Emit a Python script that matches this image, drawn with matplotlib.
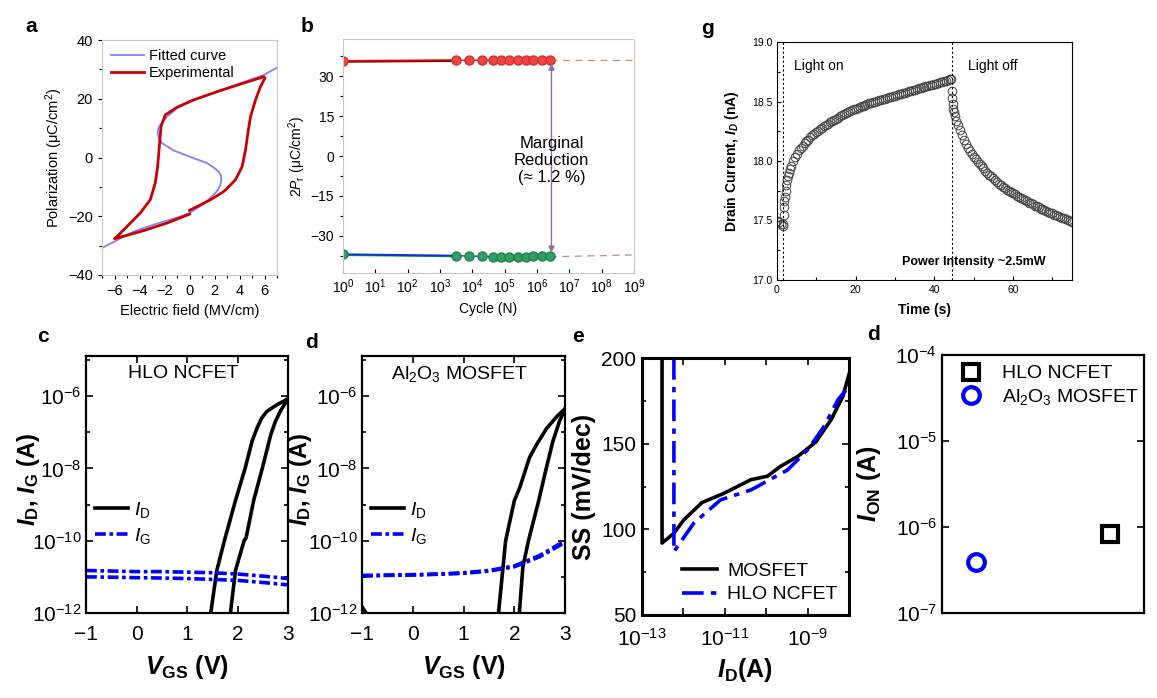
import matplotlib
matplotlib.use("Agg")
import matplotlib.pyplot as plt
from matplotlib.ticker import MultipleLocator, NullFormatter, FormatStrFormatter, NullLocator

plt.rcParams['font.family'] = ['Liberation Sans', 'DejaVu Sans']
plt.rcParams['mathtext.fontset'] = 'custom'
plt.rcParams['mathtext.rm'] = 'Liberation Sans'
plt.rcParams['mathtext.it'] = 'Liberation Sans:italic'
plt.rcParams['mathtext.bf'] = 'Liberation Sans:bold'
plt.rcParams['mathtext.bfit'] = 'Liberation Sans:bold:italic'

# ---- panel a: P-E loop ----
fit_E = [-7.0, -6.0, -4.48, -2.61, -0.74, 0.0, 1.14, 2.07, 2.3, 2.47, 2.55, 2.52, 2.34, 2.2, 1.94,
         1.40, 0.0, -1.27, -2.2, -2.45, -2.55, -2.5, -2.34, -1.80, -1.0, 0.33, 2.2, 4.08, 5.95, 7.0]
fit_P = [-30.8, -28.6, -25.2, -22.5, -20.1, -18.9, -15.8, -12.1, -10.8, -9.3, -7.6, -6.2, -4.8, -4.4, -3.4,
         -1.9, 0.3, 2.4, 4.9, 6.5, 8.3, 9.8, 11.1, 13.9, 16.8, 19.6, 22.4, 25.3, 28.1, 30.6]
exp_E = [0.0, -1.8, -3.68, -5.01, -6.0, -5.8, -5.0, -3.94, -3.14, -2.74, -2.55, -2.39, -2.28, -1.94,
         -1.0, 0.33, 2.2, 4.08, 5.95, 6.03, 5.68, 5.28, 4.88, 4.67, 4.48, 4.21, 3.68, 2.74, 1.67, 0.6, 0.0]
exp_P = [-19.3, -22.3, -24.9, -26.5, -27.6, -26.9, -23.5, -18.9, -14.4, -8.7, -3.1, 4.9, 10.5, 14.5,
         17.1, 19.6, 22.4, 25.0, 27.5, 27.0, 24.1, 19.6, 13.9, 8.3, 2.6, -3.1, -7.6, -11.6, -14.4, -16.7, -18.0]

# ---- panel b: endurance ----
b_start_N = [1, 3.1e3]
b_start_pos = [35.7, 36.0]
b_start_neg = [-37.0, -37.5]
b_cycles = [3.1e3, 7.9e3, 1.95e4, 4.3e4, 7.6e4, 1.4e5, 2.5e5, 4.5e5, 7.6e5, 1.4e6, 2.5e6]
b_pos = [36.0, 36.0, 36.0, 36.1, 36.1, 36.2, 36.1, 36.0, 36.0, 36.0, 36.0]
b_neg = [-37.5, -37.6, -37.7, -37.9, -37.8, -37.8, -37.8, -37.8, -37.7, -37.7, -37.7]
b_extra_N = [2.5e6, 1e9]
b_extra_pos = [36.1, 36.1]
b_extra_neg = [-37.9, -37.2]

# ---- panel g: photo response ----
g_time = [0.0, 0.5, 1.0, 1.4, 1.6, 1.7, 1.8, 1.9, 2.0, 2.2, 2.4, 2.6, 2.8, 3.0, 3.3, 3.6, 4.0, 4.5,
          5.0, 5.5, 6.0, 6.5, 7.0, 7.5, 8.0, 8.5, 9.0, 9.5, 10.0, 10.5, 11.0, 11.5, 12.0, 12.5, 13.0,
          13.5, 14.0, 14.5, 15.0, 15.5, 16.0, 16.5, 17.0, 17.5, 18.0, 18.5, 19.0, 19.5, 20.0, 20.5,
          21.0, 21.5, 22.0, 22.5, 23.0, 23.5, 24.0, 24.5, 25.0, 25.5, 26.0, 26.5, 27.0, 27.5, 28.0,
          28.5, 29.0, 29.5, 30.0, 30.5, 31.0, 31.5, 32.0, 32.5, 33.0, 33.5, 34.0, 34.5, 35.0, 35.5,
          36.0, 36.5, 37.0, 37.5, 38.0, 38.5, 39.0, 39.5, 40.0, 40.5, 41.0, 41.5, 42.0, 42.5, 43.0,
          43.5, 44.0, 44.3,
          44.45, 44.55, 44.65, 44.8, 45.0, 45.3, 45.6, 46.0, 46.5, 47.0, 47.5, 48.0, 48.5, 49.0, 49.5,
          50.0, 50.5, 51.0, 51.5, 52.0, 52.5, 53.0, 53.5, 54.0, 54.5, 55.0, 55.5, 56.0, 56.5, 57.0,
          57.5, 58.0, 58.5, 59.0, 59.5, 60.0, 60.5, 61.0, 61.5, 62.0, 62.5, 63.0, 63.5, 64.0, 64.5,
          65.0, 65.5, 66.0, 66.5, 67.0, 67.5, 68.0, 68.5, 69.0, 69.5, 70.0, 70.5, 71.0, 71.5, 72.0,
          72.5, 73.0, 73.5, 74.0, 74.5, 75.0]
g_current = [17.50, 17.49, 17.47, 17.45, 17.47, 17.55, 17.61, 17.66, 17.70, 17.75, 17.80, 17.84, 17.87,
             17.90, 17.93, 17.96, 18.00, 18.03, 18.06, 18.09, 18.11, 18.13, 18.15, 18.165, 18.18, 18.20,
             18.215, 18.23, 18.24, 18.255, 18.265, 18.28, 18.29, 18.30, 18.315, 18.325, 18.335, 18.345,
             18.355, 18.365, 18.375, 18.385, 18.395, 18.40, 18.41, 18.42, 18.425, 18.435, 18.44, 18.445,
             18.45, 18.46, 18.465, 18.47, 18.475, 18.485, 18.49, 18.495, 18.50, 18.505, 18.51, 18.515,
             18.52, 18.525, 18.53, 18.535, 18.54, 18.545, 18.55, 18.555, 18.56, 18.565, 18.57, 18.575,
             18.58, 18.585, 18.59, 18.595, 18.60, 18.605, 18.61, 18.615, 18.62, 18.623, 18.627, 18.63,
             18.635, 18.64, 18.645, 18.65, 18.655, 18.66, 18.665, 18.67, 18.675, 18.68, 18.685, 18.69,
             18.59, 18.53, 18.48, 18.44, 18.41, 18.38, 18.34, 18.30, 18.26, 18.22, 18.18, 18.14, 18.11,
             18.08, 18.055, 18.035, 18.015, 17.995, 17.975, 17.955, 17.94, 17.92, 17.90, 17.885, 17.87,
             17.855, 17.84, 17.825, 17.81, 17.80, 17.785, 17.775, 17.76, 17.75, 17.74, 17.73, 17.72,
             17.71, 17.70, 17.69, 17.68, 17.67, 17.66, 17.65, 17.645, 17.635, 17.625, 17.62, 17.61,
             17.60, 17.595, 17.585, 17.58, 17.57, 17.565, 17.56, 17.55, 17.545, 17.54, 17.53, 17.525,
             17.52, 17.51, 17.505, 17.50, 17.49]
g_light_on = 1.5
g_light_off = 44.4

# ---- panel c: HLO NCFET transfer ----
c_vg_up = [1.42, 1.47, 1.59, 1.74, 1.96, 2.15, 2.29, 2.39, 2.48, 2.58, 2.78, 3.0]
c_id_up = [5e-13, 1e-12, 1.5e-11, 1e-10, 1.3e-9, 1e-8, 5.8e-8, 1.35e-7, 2.5e-7, 3.8e-7, 5.8e-7, 8.5e-7]
c_vg_dn = [1.83, 1.86, 1.96, 2.13, 2.17, 2.32, 2.49, 2.66, 2.75, 2.85, 3.0]
c_id_dn = [5e-13, 1e-12, 1.5e-11, 1e-10, 1.2e-10, 1.3e-9, 1e-8, 8.7e-8, 2e-7, 3.9e-7, 8.5e-7]
c_vg_ig = [-1, -0.5, 0, 0.5, 1, 1.5, 2, 2.5, 3]
c_ig_a = [1.5e-11, 1.45e-11, 1.4e-11, 1.4e-11, 1.35e-11, 1.3e-11, 1.2e-11, 1.05e-11, 0.9e-11]
c_ig_b = [1.0e-11, 0.98e-11, 0.95e-11, 0.93e-11, 0.9e-11, 0.85e-11, 0.8e-11, 0.7e-11, 0.6e-11]

# ---- panel d: Al2O3 MOSFET transfer ----
d_vg_up = [1.66, 1.69, 1.83, 2.0, 2.11, 2.30, 2.44, 2.64, 2.84, 3.0]
d_id_up = [5e-13, 1e-12, 1e-10, 1.26e-9, 3e-9, 2e-8, 4.6e-8, 1.3e-7, 2.75e-7, 4.5e-7]
d_vg_dn = [2.08, 2.10, 2.17, 2.28, 2.48, 2.63, 2.76, 2.89, 3.0]
d_id_dn = [5e-13, 1e-12, 1.9e-11, 1e-10, 1.26e-9, 1e-8, 5.6e-8, 2e-7, 4.5e-7]
d_vg_tail = [-1.0, -0.88]
d_id_tail = [1.5e-12, 8e-13]
d_vg_ig = [-1, -0.5, 0, 0.5, 1, 1.5, 2, 2.5, 3]
d_ig_a = [1.1e-11, 1.12e-11, 1.15e-11, 1.2e-11, 1.3e-11, 1.5e-11, 2.0e-11, 3.9e-11, 1.0e-10]
d_ig_b = [1.05e-11, 1.1e-11, 1.12e-11, 1.18e-11, 1.25e-11, 1.45e-11, 1.9e-11, 3.6e-11, 0.9e-10]

# ---- panel e: SS vs ID ----
e_id_mos = [3.05e-13, 3.05e-13, 5.9e-13, 1.02e-12, 2.8e-12, 9.5e-12, 4.3e-11, 1.07e-10, 2.2e-10,
            5.75e-10, 1.58e-9, 3.7e-9, 7.1e-9, 1.07e-8]
e_ss_mos = [200, 92, 97.7, 105.5, 115.6, 121, 129, 131, 136.7, 142.5, 151, 164, 177.6, 193]
e_id_nc = [5.9e-13, 5.9e-13, 1.78e-12, 7.9e-12, 4.3e-11, 3.3e-10, 1e-9, 2.5e-9, 5.4e-9, 9.3e-9]
e_ss_nc = [200, 87, 103.6, 117.2, 123, 134.7, 146.4, 160, 175.6, 182.5]

# ---- panel d (right): ION ----
ion_pos = [2.5, 0.5]
ion_vals = [8.2e-7, 3.9e-7]
ion_names = ['HLO NCFET', 'Al$_2$O$_3$ MOSFET']

W, H = 1157, 698
fig = plt.figure(figsize=(W / 100, H / 100), dpi=100)


def box(x0, y0, x1, y1):
    return fig.add_axes([x0 / W, 1 - y1 / H, (x1 - x0) / W, (y1 - y0) / H])


def tag(x, y, s):
    fig.text(x / W, 1 - y / H, s, fontsize=15, fontweight='bold', ha='center', va='center')


# panel a
ax = box(102, 40, 277, 275)
ax.plot(fit_E, fit_P, color='#8080ff', lw=1.3, label='Fitted curve')
ax.plot(exp_E, exp_P, color='#cc0000', lw=2.0, label='Experimental')
ax.set_xlim(-7, 7)
ax.set_ylim(-40, 40)
ax.xaxis.set_major_locator(MultipleLocator(2))
ax.xaxis.set_minor_locator(MultipleLocator(1))
ax.yaxis.set_major_locator(MultipleLocator(20))
ax.yaxis.set_minor_locator(MultipleLocator(10))
ax.tick_params(which='both', labelsize=10.5, length=3, width=0.8)
ax.tick_params(which='minor', length=2)
for s in ax.spines.values():
    s.set_color('#c8c8c8')
ax.set_xlabel('Electric field (MV/cm)', fontsize=10.5)
ax.set_ylabel('Polarization (μC/cm$^2$)', fontsize=10.5, labelpad=2)
ax.legend(loc='upper left', frameon=False, fontsize=10.5, handlelength=2.3,
          borderaxespad=0.2, handletextpad=0.3, labelspacing=0.2)
tag(31, 26, 'a')

# panel b
ax = box(343, 39, 634, 273)
ax.set_xscale('log')
ax.plot(b_start_N, [v - 0.3 for v in b_start_pos], color='black', lw=1.2)
ax.plot(b_start_N, b_start_pos, color='#e00000', lw=1.5)
ax.plot(b_start_N, [v - 0.3 for v in b_start_neg], color='#10c010', lw=1.2)
ax.plot(b_start_N, b_start_neg, color='#1030d0', lw=1.5)
ax.plot(b_extra_N, b_extra_pos, ls=(0, (5, 4)), color='#c09a80', lw=1)
ax.plot(b_extra_N, b_extra_neg, ls=(0, (5, 4)), color='#c09a80', lw=1)
ax.plot(b_start_N[:1], b_start_pos[:1], 'o', ms=6.5, mfc='#f04545', mec='#d03030')
ax.plot(b_start_N[:1], b_start_neg[:1], 'o', ms=6.5, mfc='#30a060', mec='#208050')
ax.plot(b_cycles, b_pos, '-o', color='#e02020', lw=1, ms=6.5, mfc='#f04545', mec='#d03030')
ax.plot(b_cycles, b_neg, '-o', color='#1040d0', lw=1, ms=6.5, mfc='#30a060', mec='#208050')
ax.annotate('', xy=(2.8e6, -37.4), xytext=(2.8e6, 35.8),
            arrowprops=dict(arrowstyle='<|-|>', color='#8e6f9e', lw=1, mutation_scale=9))
ax.text(2.8e6, -1.6, 'Marginal\nReduction\n(≈ 1.2 %)', fontsize=12, ha='center', va='center',
        linespacing=1.15)
ax.set_xlim(1, 1e9)
ax.set_ylim(-44, 44)
ax.set_xticks([10.0 ** k for k in range(10)])
ax.yaxis.set_major_locator(MultipleLocator(15))
ax.yaxis.set_minor_locator(MultipleLocator(7.5))
ax.tick_params(which='both', labelsize=10, length=3, width=0.8)
ax.tick_params(axis='x', which='both', direction='in')
ax.tick_params(which='minor', length=2)
for s in ax.spines.values():
    s.set_color('#c8c8c8')
ax.set_xlabel('Cycle (N)', fontsize=10)
ax.set_ylabel('2$P_\\mathrm{r}$ (μC/cm$^2$)', fontsize=10, labelpad=2)
tag(307, 26, 'b')

# panel g
ax = box(777, 42, 1072, 280)
ax.plot(g_time, g_current, 'o', ms=6.2, mfc='none', mec='#444444', mew=0.7)
ax.axvline(g_light_on, color='black', ls=(0, (2, 2)), lw=0.8)
ax.axvline(g_light_off, color='black', ls=(0, (2, 2)), lw=0.8)
ax.text(4.3, 18.80, 'Light on', fontsize=10, va='center')
ax.text(48.6, 18.80, 'Light off', fontsize=10, va='center')
ax.text(31.7, 17.15, 'Power Intensity ~2.5mW', fontsize=9, fontweight='bold', va='center')
ax.set_xlim(0, 75)
ax.set_ylim(17.0, 19.0)
ax.xaxis.set_major_locator(MultipleLocator(20))
ax.xaxis.set_minor_locator(MultipleLocator(10))
ax.yaxis.set_major_locator(MultipleLocator(0.5))
ax.yaxis.set_minor_locator(MultipleLocator(0.25))
ax.yaxis.set_major_formatter(FormatStrFormatter('%.1f'))
ax.tick_params(which='both', direction='in', labelsize=7.5, length=3, width=0.8)
ax.tick_params(which='minor', length=2)
ax.set_xlabel('Time (s)', fontsize=10, fontweight='bold', labelpad=6)
ax.set_ylabel('Drain Current, $\\mathbfit{I}_{\\mathbfit{D}}$ (nA)', fontsize=10, fontweight='bold',
              labelpad=8)
tag(707, 28, 'g')


def transfer(ax, vg_up, id_up, vg_dn, id_dn, vg_ig, ig_a, ig_b, title):
    ax.set_yscale('log')
    ax.plot(vg_up, id_up, color='black', lw=2.6, label='$\\mathit{I}_\\mathrm{D}$')
    ax.plot(vg_dn, id_dn, color='black', lw=2.6)
    ax.plot(vg_ig, ig_a, color='#0000ff', lw=2.6, ls=(0, (3, 1, 1, 1)), label='$\\mathit{I}_\\mathrm{G}$')
    ax.plot(vg_ig, ig_b, color='#0000ff', lw=2.6, ls=(0, (3, 1, 1, 1)))
    ax.set_xlim(-1, 3)
    ax.set_ylim(1e-12, 1.3e-5)
    ax.set_xticks([-1, 0, 1, 2, 3])
    ax.set_yticks([1e-12, 1e-10, 1e-8, 1e-6])
    ax.set_yticks([1e-11, 1e-9, 1e-7, 1e-5], minor=True)
    ax.yaxis.set_minor_formatter(NullFormatter())
    ax.tick_params(which='both', direction='in', top=True, right=True, labelsize=15, length=5, width=1.2)
    ax.tick_params(axis='x', pad=9)
    ax.tick_params(axis='y', pad=3)
    ax.tick_params(which='minor', length=3)
    for s in ax.spines.values():
        s.set_linewidth(1.6)
    ax.text(0.48, 0.93, title, transform=ax.transAxes, fontsize=14, ha='center', va='center')
    ax.legend(loc='center left', bbox_to_anchor=(-0.04, 0.35), frameon=False, fontsize=14,
              handlelength=1.7, handletextpad=0.3, labelspacing=0.3)
    ax.set_xlabel('$\\mathbfit{V}_{\\mathbf{GS}}$ (V)', fontsize=18, fontweight='bold')
    ax.set_ylabel('$\\mathbfit{I}_{\\mathbf{D}}$, $\\mathbfit{I}_{\\mathbf{G}}$ (A)', fontsize=17,
                  fontweight='bold')
    ax.xaxis.set_label_coords(0.5, -0.155)


# panel c
ax = box(86, 356, 288, 613)
transfer(ax, c_vg_up, c_id_up, c_vg_dn, c_id_dn, c_vg_ig, c_ig_a, c_ig_b, 'HLO NCFET')
ax.yaxis.set_label_coords(-0.22, 0.52)
tag(43, 337, 'c')

# panel d
ax = box(362, 356, 565, 613)
transfer(ax, d_vg_up, d_id_up, d_vg_dn, d_id_dn, d_vg_ig, d_ig_a, d_ig_b, 'Al$_2$O$_3$ MOSFET')
ax.plot(d_vg_tail, d_id_tail, color='black', lw=2.6)
ax.yaxis.set_label_coords(-0.235, 0.52)
tag(312, 343, 'd')

# panel e
ax = box(642, 358, 849, 615)
ax.set_xscale('log')
ax.plot(e_id_mos, e_ss_mos, color='black', lw=2.6, label='MOSFET')
ax.plot(e_id_nc, e_ss_nc, color='#0000ff', lw=2.6, ls=(0, (6, 2, 1.5, 2)), label='HLO NCFET')
ax.set_xlim(1e-13, 1e-8)
ax.set_ylim(50, 200)
ax.set_xticks([1e-13, 1e-12, 1e-11, 1e-10, 1e-9, 1e-8])
ax.set_xticklabels(['$10^{-13}$', '', '$10^{-11}$', '', '$10^{-9}$', ''])
ax.xaxis.set_minor_formatter(NullFormatter())
ax.yaxis.set_major_locator(MultipleLocator(50))
ax.yaxis.set_minor_locator(MultipleLocator(25))
ax.tick_params(which='both', direction='in', top=True, right=True, labelsize=15, length=5, width=1.2)
ax.tick_params(axis='x', pad=9)
ax.tick_params(axis='y', pad=4)
ax.tick_params(which='minor', length=3)
for s in ax.spines.values():
    s.set_linewidth(2.2)
ax.legend(loc='lower right', frameon=False, fontsize=14, handlelength=1.8, handletextpad=0.5,
          labelspacing=0.3, borderaxespad=0.2)
ax.set_xlabel('$\\mathbfit{I}_{\\mathbf{D}}$(A)', fontsize=18, fontweight='bold')
ax.xaxis.set_label_coords(0.5, -0.16)
ax.set_ylabel('SS (mV/dec)', fontsize=18, fontweight='bold')
ax.yaxis.set_label_coords(-0.22, 0.5)
tag(578, 337, 'e')

# panel d (right)
ax = box(942, 355, 1144, 613)
ax.set_yscale('log')
ax.plot(ion_pos[:1], ion_vals[:1], 's', ms=11, mfc='none', mec='black', mew=3, label=ion_names[0])
ax.plot(ion_pos[1:], ion_vals[1:], 'o', ms=12, mfc='none', mec='#0000ff', mew=3, label=ion_names[1])
ax.set_xlim(0, 3)
ax.set_ylim(1e-7, 1e-4)
ax.xaxis.set_major_locator(NullLocator())
ax.set_yticks([1e-7, 1e-6, 1e-5, 1e-4])
ax.yaxis.set_minor_locator(NullLocator())
ax.tick_params(which='both', direction='in', right=True, labelsize=15, length=5, width=1.2)
for s in ax.spines.values():
    s.set_linewidth(1.6)
ax.legend(loc='upper left', frameon=False, fontsize=14, handletextpad=0.6, labelspacing=0.25,
          borderaxespad=0.3, borderpad=0.2)
ax.set_ylabel('$\\mathbfit{I}_{\\mathbf{ON}}$ (A)', fontsize=18, fontweight='bold')
ax.yaxis.set_label_coords(-0.29, 0.5)
tag(873, 335, 'd')

fig.savefig('out.png', dpi=100)
